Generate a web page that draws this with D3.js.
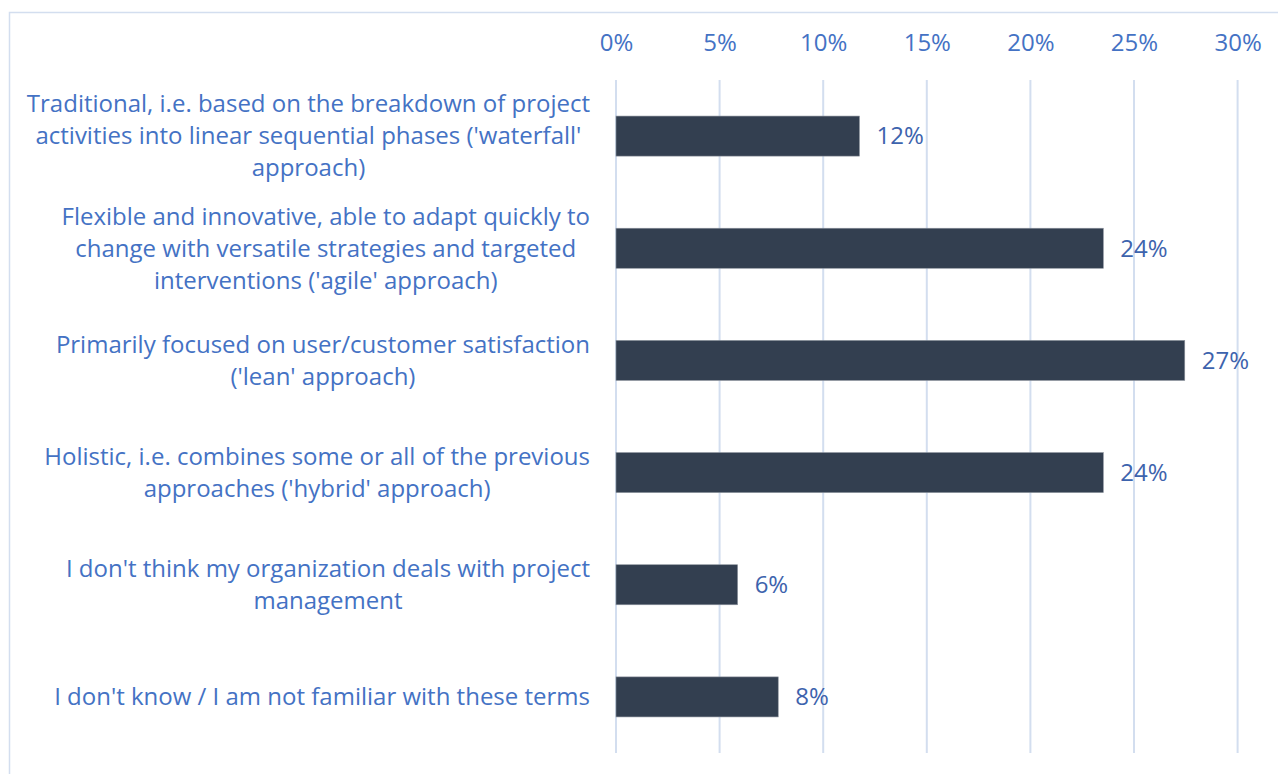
<!DOCTYPE html>
<html>
<head>
<meta charset="utf-8">
<script src="https://cdn.jsdelivr.net/npm/d3@7"></script>
<style>
  body { margin: 0; background: #fff; }
  text { font-family: "Open Sans", sans-serif; }
</style>
</head>
<body>
<div id="chart"></div>
<script>
// categories, split into the lines shown in the chart
const categories = [
  ["Traditional, i.e. based on the breakdown of project", "activities into linear sequential phases ('waterfall'", "approach)"],
  ["Flexible and innovative, able to adapt quickly to", "change with versatile strategies and targeted", "interventions ('agile' approach)"],
  ["Primarily focused on user/customer satisfaction", "('lean' approach)"],
  ["Holistic, i.e. combines some or all of the previous", "approaches ('hybrid' approach)"],
  ["I don't think my organization deals with project", "management"],
  ["I don't know / I am not familiar with these terms"]
];
const values = [11.75, 23.52, 27.45, 23.52, 5.87, 7.83];
const xTicks = [0, 5, 10, 15, 20, 25, 30];

const width = 1278, height = 774;
const margin = {top: 80, right: 40, bottom: 21, left: 616};
const blue = '#4472c4';
const fontSize = '24px';

const svg = d3.select('#chart')
  .append('svg')
  .attr('width', width)
  .attr('height', height);

// chart frame
svg.append('rect')
  .attr('x', 9.5).attr('y', 12.5)
  .attr('width', 1300).attr('height', 800)
  .attr('fill', 'none')
  .attr('stroke', '#d3deef')
  .attr('stroke-width', 1.5);

const x = d3.scaleLinear()
  .domain([0, 30])
  .range([margin.left, 1237.6]);

const y = d3.scaleBand()
  .domain(d3.range(categories.length))
  .range([margin.top, height - margin.bottom])
  .paddingInner(0.643)
  .paddingOuter(0.3215);

// gridlines
svg.append('g')
  .selectAll('line')
  .data(xTicks)
  .enter()
  .append('line')
  .attr('x1', d => x(d)).attr('x2', d => x(d))
  .attr('y1', margin.top).attr('y2', height - margin.bottom)
  .attr('stroke', '#d3deef')
  .attr('stroke-width', 2);

// top axis
const axis = svg.append('g')
  .attr('transform', `translate(0,${margin.top})`)
  .call(d3.axisTop(x).tickValues(xTicks).tickFormat(d => d + '%').tickSize(0).tickPadding(29));
axis.select('.domain').remove();
axis.selectAll('text')
  .attr('fill', blue)
  .style('font-size', fontSize);

// bars
svg.append('g')
  .selectAll('rect')
  .data(values)
  .enter()
  .append('rect')
  .attr('x', x(0))
  .attr('y', (d, i) => y(i))
  .attr('width', d => x(d) - x(0))
  .attr('height', y.bandwidth())
  .attr('fill', '#333f50')
  .attr('stroke', '#8d949d')
  .attr('stroke-width', 0.6);

// value labels
svg.append('g')
  .selectAll('text')
  .data(values)
  .enter()
  .append('text')
  .attr('x', d => x(d) + 17)
  .attr('y', (d, i) => y(i) + y.bandwidth() / 2)
  .attr('dy', '0.35em')
  .attr('fill', '#3d63ad')
  .style('font-size', fontSize)
  .text(d => Math.round(d) + '%');

// category labels: lines centred on the widest line, block right-aligned
const lineH = 32;
const labels = svg.append('g');
categories.forEach((lines, i) => {
  const t = labels.append('text')
    .attr('fill', blue)
    .attr('text-anchor', 'middle')
    .style('font-size', fontSize);
  const cy = y(i) + y.bandwidth() / 2;
  const y0 = cy - (lines.length - 1) * lineH / 2;
  lines.forEach((s, j) => {
    t.append('tspan')
      .attr('x', 0)
      .attr('y', y0 + j * lineH)
      .attr('dy', '0.35em')
      .text(s);
  });
  let w = 0;
  t.selectAll('tspan').each(function() { w = Math.max(w, this.getComputedTextLength()); });
  t.selectAll('tspan').attr('x', 590 - w / 2);
});
</script>
</body>
</html>
